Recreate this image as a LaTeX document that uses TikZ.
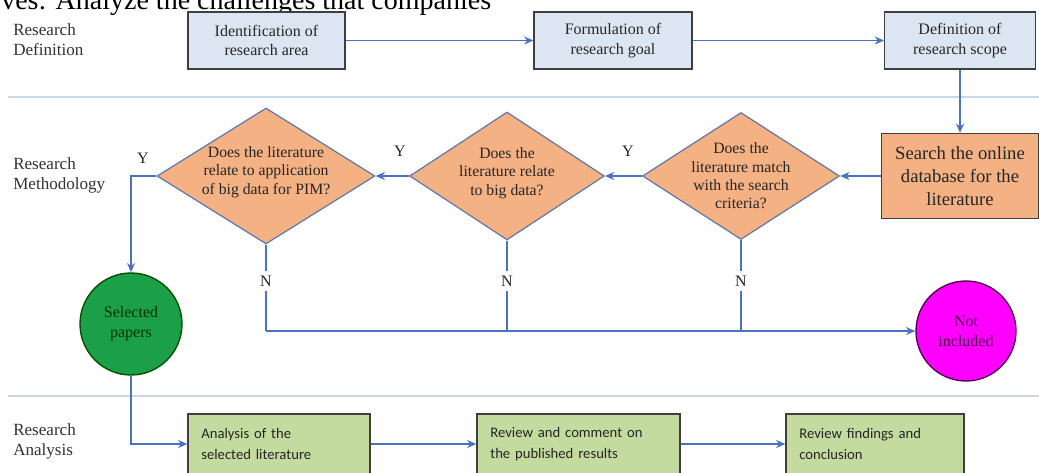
\documentclass[tikz,border=0pt]{standalone}
\usepackage{fontspec}
\setmainfont{Liberation Serif}
\newfontfamily\calfont{Carlito}
\usetikzlibrary{shapes.geometric,arrows.meta}
\definecolor{lineblue}{HTML}{4A72C0}
\definecolor{sepblue}{HTML}{C8D7EA}
\definecolor{boxblue}{HTML}{DCE6F2}
\definecolor{boxedge}{HTML}{3F3F3F}
\definecolor{orng}{HTML}{F4B183}
\definecolor{grn}{HTML}{C4DBA0}
\definecolor{dgreen}{HTML}{1BA049}
\definecolor{mag}{HTML}{FF00FF}
\begin{document}
\begin{tikzpicture}[x=0.75pt,y=-0.75pt,
  every node/.style={inner sep=0pt},
  conn/.style={draw=lineblue,line width=1.1pt},
  arr/.style={conn,-{Stealth[length=7pt,width=6pt]}},
  sep/.style={draw=sepblue,line width=1.6pt},
  lab/.style={anchor=west,align=left,font=\fontsize{12.8}{15}\selectfont,text=black!80},
  bluebox/.style={draw=boxedge,fill=boxblue,line width=0.9pt,align=center,minimum height=42.75pt,font=\fontsize{12}{14.5}\selectfont,text=black!85},
  orgbox/.style={draw=boxedge,fill=orng,line width=0.9pt,align=center,font=\fontsize{14}{17}\selectfont,text=black!85},
  dia/.style={diamond,draw=lineblue!60!gray,fill=orng,line width=0.9pt},
  diatext/.style={align=center,font=\fontsize{11.8}{13.8}\selectfont,text=black!85},
  yn/.style={font=\fontsize{12}{13}\selectfont,text=black!85},
  grnbox/.style={draw=boxedge,fill=grn,line width=0.9pt,align=left,minimum height=45pt,text width=#1,inner xsep=10pt,font=\calfont\fontsize{11}{15.5}\selectfont,text=black!85},
  circ/.style={circle,line width=1pt,align=center,font=\fontsize{12}{15}\selectfont}
]
\useasboundingbox (0,0) rectangle (1039,473);
\fill[white] (0,0) rectangle (1039,473);

% clipped page text at top
\node[anchor=base west,font=\fontsize{21}{22}\selectfont,text=black] (toptext) at (1,10) {ves: Analyze the challenges that companies};

% lane labels
\node[lab] (l1) at (13,40) {Research\\Definition};
\node[lab] (l2) at (13,175) {Research\\Methodology};
\node[lab] (l3) at (13,441) {Research\\Analysis};

% separators
\coordinate (s1a) at (8,97); \coordinate (s1b) at (1039,97);
\coordinate (s2a) at (8,396); \coordinate (s2b) at (1039,396);
\draw[sep] (s1a) -- (s1b);
\draw[sep] (s2a) -- (s2b);

% row 1
\node[bluebox,minimum width=117.75pt] (b1) at (266.5,40.5) {Identification of\\research area};
\node[bluebox,minimum width=118.5pt] (b2) at (613,40.5) {Formulation of\\research goal};
\node[bluebox,minimum width=113pt] (b3) at (960,40.5) {Definition of\\research scope};
\draw[arr] (b1) -- (b2);
\draw[arr] (b2) -- (b3);

% row 2
\node[orgbox,minimum width=117.75pt,minimum height=63.75pt] (srch) at (960,176) {Search the online\\database for the\\literature};
\draw[arr] (b3) -- (srch);

\node[dia,minimum width=147.75pt,minimum height=95.25pt] (d3) at (741,176) {};
\node[diatext] (t3) at (741,176) {Does the\\literature match\\with the search\\criteria?};
\node[dia,minimum width=146pt,minimum height=96pt] (d2) at (507,176) {};
\node[diatext] (t2) at (507,173) {Does the\\literature relate\\to big data?};
\node[dia,minimum width=163.5pt,minimum height=102pt] (d1) at (266,176) {};
\node[diatext] (t1) at (266,172) {Does the literature\\relate to application\\of big data for PIM?};

\draw[arr] (srch) -- (d3);
\draw[arr] (d3) -- (d2);
\draw[arr] (d2) -- (d1);

\node[yn] (y3) at (628,151) {Y};
\node[yn] (y2) at (400,151) {Y};
\node[yn] (y1) at (143,158) {Y};

\node[circ,fill=dgreen,draw=green!30!black,minimum size=76.5pt,text=green!20!black] (sp) at (131,324) {Selected\\papers};
\node[circ,fill=mag,draw=violet!60!black,minimum size=75pt,text=violet!60!black] (ni) at (966,331) {Not\\included};

\coordinate (c1) at (131,176);
\draw[arr] (d1.west) -- (c1) -- (sp.north);

\node[yn,inner sep=3pt] (n1) at (266,281) {N};
\node[yn,inner sep=3pt] (n2) at (507,281) {N};
\node[yn,inner sep=3pt] (n3) at (741,281) {N};
\coordinate (j1) at (266,331);
\coordinate (j2) at (507,331);
\coordinate (j3) at (741,331);
\draw[conn] (d1.south) -- (n1) -- (j1);
\draw[conn] (d2.south) -- (n2) -- (j2);
\draw[conn] (d3.south) -- (n3) -- (j3);
\draw[arr] (j1) -- (j2) -- (j3) -- (ni.west);

% row 3
\node[grnbox=116.5pt] (g1) at (279,444) {Analysis of the\\selected literature};
\node[grnbox=132.25pt] (g2) at (578.5,444) {Review and comment on\\the published results};
\node[grnbox=113.5pt] (g3) at (875,444) {Review findings and\\conclusion};
\coordinate (c2) at (131,444);
\draw[arr] (sp.south) -- (c2) -- (g1.west);
\draw[arr] (g1) -- (g2);
\draw[arr] (g2) -- (g3);
\end{tikzpicture}
\end{document}
